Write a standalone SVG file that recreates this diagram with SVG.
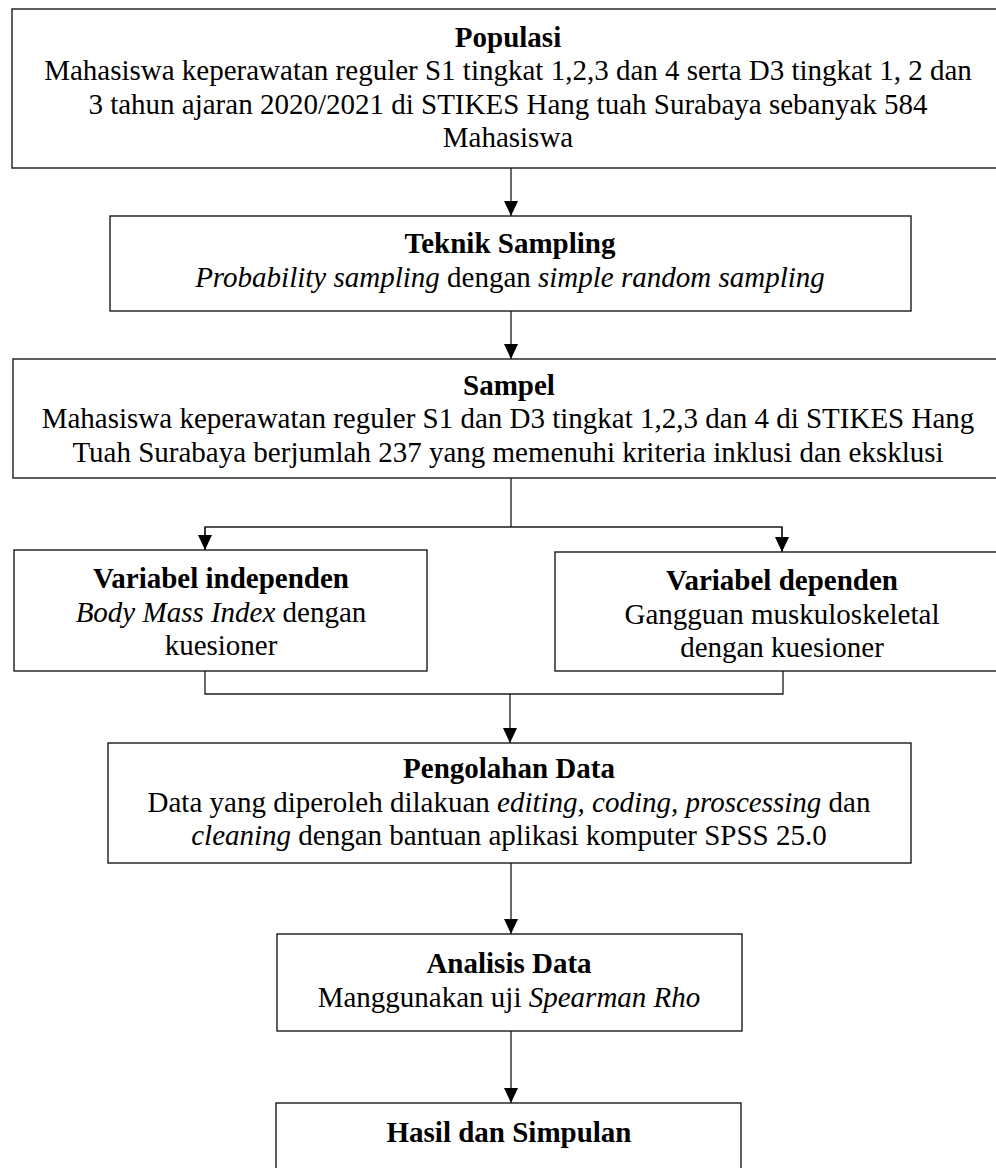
<svg xmlns="http://www.w3.org/2000/svg" width="996" height="1168" viewBox="0 0 996 1168">
<style>
.box{fill:#fff;stroke:#1a1a1a;stroke-width:1.4}
.con{fill:none;stroke:#1a1a1a;stroke-width:1.3}
text{font-family:"Liberation Serif","Times New Roman",serif;font-size:29px;fill:#000;text-anchor:middle}
.b{font-weight:bold}
.i{font-style:italic}
</style>
<defs>
<marker id="arr" markerUnits="userSpaceOnUse" viewBox="0 -7 15 14" markerWidth="15" markerHeight="14" refX="15" refY="0" orient="auto">
<path d="M0,-7 L15,0 L0,7 z" fill="#000"/>
</marker>
</defs>
<rect width="996" height="1168" fill="#fff"/>
<g id="connectors">
<line class="con" x1="511" y1="168" x2="511" y2="216" marker-end="url(#arr)"/>
<line class="con" x1="511" y1="311" x2="511" y2="359" marker-end="url(#arr)"/>
<polyline class="con" points="511,478 511,527"/>
<polyline class="con" points="205,550 205,527 782,527 782,552" marker-start="none"/>
<line class="con" x1="205" y1="527" x2="205" y2="550" marker-end="url(#arr)"/>
<line class="con" x1="782" y1="527" x2="782" y2="552" marker-end="url(#arr)"/>
<polyline class="con" points="205,671 205,694 783,694 783,671"/>
<line class="con" x1="510" y1="694" x2="510" y2="743" marker-end="url(#arr)"/>
<line class="con" x1="511" y1="863" x2="511" y2="934" marker-end="url(#arr)"/>
<line class="con" x1="511" y1="1031" x2="511" y2="1103" marker-end="url(#arr)"/>
</g>
<g id="populasi">
<rect class="box" x="12" y="9" width="1000" height="159"/>
<text class="b" x="508" y="47">Populasi</text>
<text x="508" y="80">Mahasiswa keperawatan reguler S1 tingkat 1,2,3 dan 4 serta D3 tingkat 1, 2 dan</text>
<text x="508" y="114">3 tahun ajaran 2020/2021 di STIKES Hang tuah Surabaya sebanyak 584</text>
<text x="508" y="147">Mahasiswa</text>
</g>
<g id="teknik-sampling">
<rect class="box" x="110" y="216" width="801" height="95"/>
<text class="b" x="510" y="253">Teknik Sampling</text>
<text x="510" y="287"><tspan class="i">Probability sampling</tspan> dengan <tspan class="i">simple random sampling</tspan></text>
</g>
<g id="sampel">
<rect class="box" x="13" y="359" width="1000" height="119"/>
<text class="b" x="509" y="395">Sampel</text>
<text x="508" y="428">Mahasiswa keperawatan reguler S1 dan D3 tingkat 1,2,3 dan 4 di STIKES Hang</text>
<text x="508" y="462">Tuah Surabaya berjumlah 237 yang memenuhi kriteria inklusi dan eksklusi</text>
</g>
<g id="variabel-independen">
<rect class="box" x="14" y="550" width="413" height="121"/>
<text class="b" x="221" y="588">Variabel independen</text>
<text x="221" y="622"><tspan class="i">Body Mass Index</tspan> dengan</text>
<text x="221" y="655">kuesioner</text>
</g>
<g id="variabel-dependen">
<rect class="box" x="555" y="552" width="455" height="119"/>
<text class="b" x="782" y="590">Variabel dependen</text>
<text x="782" y="624">Gangguan muskuloskeletal</text>
<text x="782" y="657">dengan kuesioner</text>
</g>
<g id="pengolahan-data">
<rect class="box" x="108" y="743" width="803" height="120"/>
<text class="b" x="509" y="778">Pengolahan Data</text>
<text x="509" y="812">Data yang diperoleh dilakuan <tspan class="i">editing, coding, proscessing</tspan> dan</text>
<text x="509" y="845"><tspan class="i">cleaning</tspan> dengan bantuan aplikasi komputer SPSS 25.0</text>
</g>
<g id="analisis-data">
<rect class="box" x="277" y="934" width="465" height="97"/>
<text class="b" x="509" y="973">Analisis Data</text>
<text x="509" y="1007">Manggunakan uji <tspan class="i">Spearman Rho</tspan></text>
</g>
<g id="hasil">
<rect class="box" x="276" y="1103" width="465" height="80"/>
<text class="b" x="509" y="1142">Hasil dan Simpulan</text>
</g>
</svg>
